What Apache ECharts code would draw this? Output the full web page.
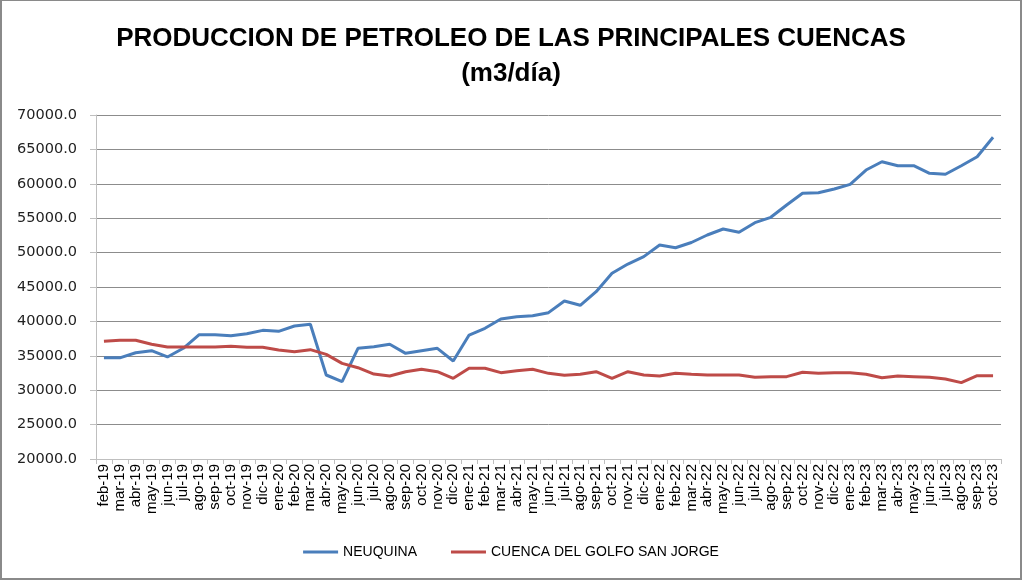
<!DOCTYPE html>
<html><head><meta charset="utf-8">
<script src="https://cdn.jsdelivr.net/npm/echarts@6/dist/echarts.min.js"></script>
<style>
html,body{margin:0;padding:0;background:#fff;}
#frame{position:absolute;left:0;top:0;width:1022px;height:580px;box-sizing:border-box;border:2px solid #8a8a8a;border-top-width:1px;border-right-width:2px;}
#chart{position:absolute;left:0;top:0;width:1022px;height:580px;}
</style></head>
<body>
<div id="chart"></div>
<div id="frame"></div>
<script>
const categories = ["feb-19","mar-19","abr-19","may-19","jun-19","jul-19","ago-19","sep-19","oct-19","nov-19","dic-19",
"ene-20","feb-20","mar-20","abr-20","may-20","jun-20","jul-20","ago-20","sep-20","oct-20","nov-20","dic-20",
"ene-21","feb-21","mar-21","abr-21","may-21","jun-21","jul-21","ago-21","sep-21","oct-21","nov-21","dic-21",
"ene-22","feb-22","mar-22","abr-22","may-22","jun-22","jul-22","ago-22","sep-22","oct-22","nov-22","dic-22",
"ene-23","feb-23","mar-23","abr-23","may-23","jun-23","jul-23","ago-23","sep-23","oct-23"];

const neuquina = [34720,34700,35450,35740,34830,36090,38070,38070,37920,38210,38700,
38560,39330,39580,32210,31240,36090,36320,36670,35360,35740,36090,34240,
38020,39000,40350,40690,40830,41270,42970,42340,44320,46990,48340,49410,
51100,50710,51470,52560,53430,52950,54350,55130,56920,58620,58710,59240,
59920,62000,63210,62630,62630,61520,61380,62630,63940,66760];

const golfoSanJorge = [37110,37250,37250,36670,36280,36280,36280,36280,36380,36240,36240,
35840,35600,35890,35210,33900,33270,32350,32060,32690,33040,32690,31730,
33180,33180,32550,32840,33040,32450,32160,32310,32690,31730,32690,32210,
32060,32450,32310,32210,32210,32210,31870,31970,31970,32600,32450,32550,
32550,32310,31820,32060,31970,31870,31630,31100,32110,32110];

const seriesNames = ["NEUQUINA","CUENCA DEL GOLFO SAN JORGE"];
const yMin = 20000, yMax = 70000, yStep = 5000;

const chart = echarts.init(document.getElementById('chart'), null, {renderer:'canvas'});
chart.setOption({
  animation:false,
  backgroundColor:'#fff',
  title:{
    text:'PRODUCCION DE PETROLEO DE LAS PRINCIPALES CUENCAS\n(m3/día)',
    left:'center', top:16,
    textStyle:{fontFamily:'Liberation Sans',fontWeight:'bold',fontSize:26,lineHeight:35,color:'#000'}
  },
  legend:{
    bottom:16, left:'center', itemWidth:35, itemHeight:3, itemGap:34, icon:'rect',
    textStyle:{fontFamily:'Liberation Sans',fontSize:14,color:'#000'},
    data:seriesNames
  },
  grid:{left:96,right:21,top:115,bottom:121,containLabel:false},
  xAxis:{
    type:'category', data:categories, boundaryGap:true,
    axisLine:{lineStyle:{color:'#bfbfbf',width:1}},
    axisTick:{show:true,interval:0,length:5,lineStyle:{color:'#bfbfbf'}},
    axisLabel:{interval:0,rotate:90,margin:5,fontFamily:'Liberation Sans',fontSize:15,color:'#000'},
    splitLine:{show:false}
  },
  yAxis:{
    type:'value', min:yMin, max:yMax, interval:yStep,
    axisLine:{show:true,lineStyle:{color:'#bfbfbf',width:1}},
    axisTick:{show:true,length:6,lineStyle:{color:'#bfbfbf'}},
    axisLabel:{margin:19,fontFamily:'DejaVu Sans',fontSize:14.5,color:'#222',formatter:v=>v.toFixed(1)},
    splitLine:{show:true,lineStyle:{color:'#8c8c8c',width:1}}
  },
  series:[
    {name:seriesNames[0],type:'line',data:neuquina,symbol:'none',lineStyle:{color:'#4a7ebb',width:3},itemStyle:{color:'#4a7ebb'}},
    {name:seriesNames[1],type:'line',data:golfoSanJorge,symbol:'none',lineStyle:{color:'#be4b48',width:3},itemStyle:{color:'#be4b48'}}
  ]
});
</script>
</body></html>
